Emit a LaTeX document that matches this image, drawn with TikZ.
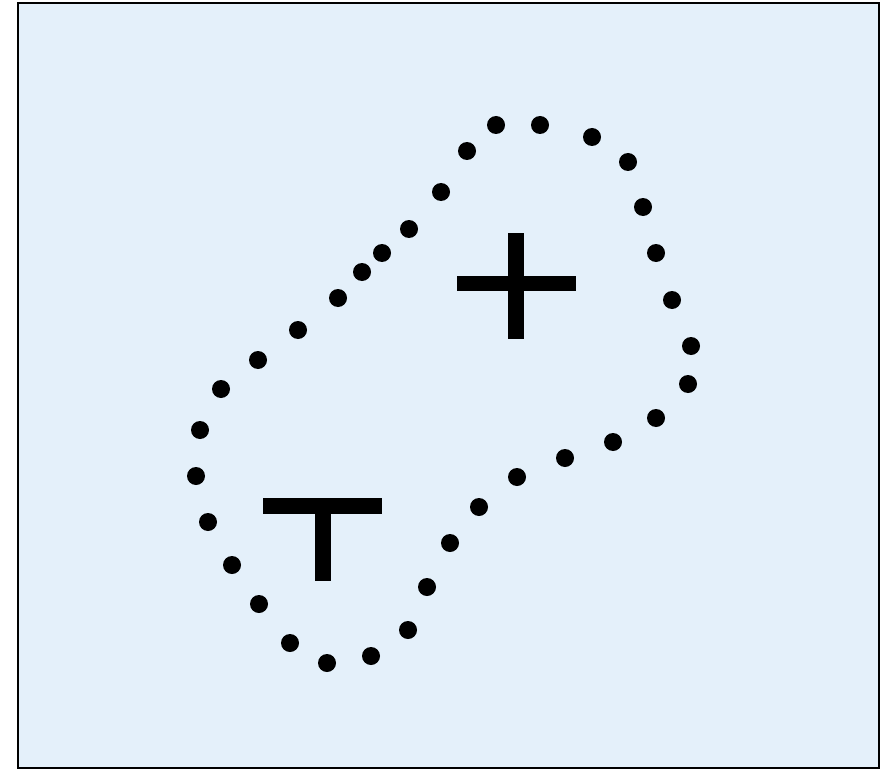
\documentclass[tikz,border=0pt]{standalone}
\usepackage{tikz}
\usetikzlibrary{positioning}
\definecolor{paleblue}{RGB}{228,240,250}

\begin{document}
\begin{tikzpicture}[x=1pt,y=-1pt,frame/.style={draw=black,fill=paleblue,line width=2.5pt},dot/.style={fill=black},bar/.style={draw=black,line width=15.5pt}]

\useasboundingbox (0,0) rectangle (896,770);
\draw[frame] (18,3) rectangle (879,768);
% dotted outline
\foreach \px/\py in {496/125,540/125,592/137,628/162,643/207,656/253,672/300,691/346,688/384,656/418,613/442,565/458,517/477,479/507,450/543,427/587,408/630,371/656,327/663,290/643,259/604,232/565,208/522,196/476,200/430,221/389,258/360,298/330,338/298,362/272,382/253,409/229,441/192,467/151}
  \fill[dot] (\px,\py) circle (9);
% plus
\coordinate (pl) at (457,283.5);
\coordinate (pr) at (576,283.5);
\coordinate (pt) at (516,233);
\coordinate (pb) at (516,339);
\draw[bar] (pl)--(pr);
\draw[bar] (pt)--(pb);
% T
\coordinate (tl) at (263,506);
\coordinate (tr) at (382,506);
\coordinate (tb) at (323,581);
\draw[bar] (tl)--(tr);
\draw[bar] (323,506)--(tb);
\end{tikzpicture}
\end{document}
